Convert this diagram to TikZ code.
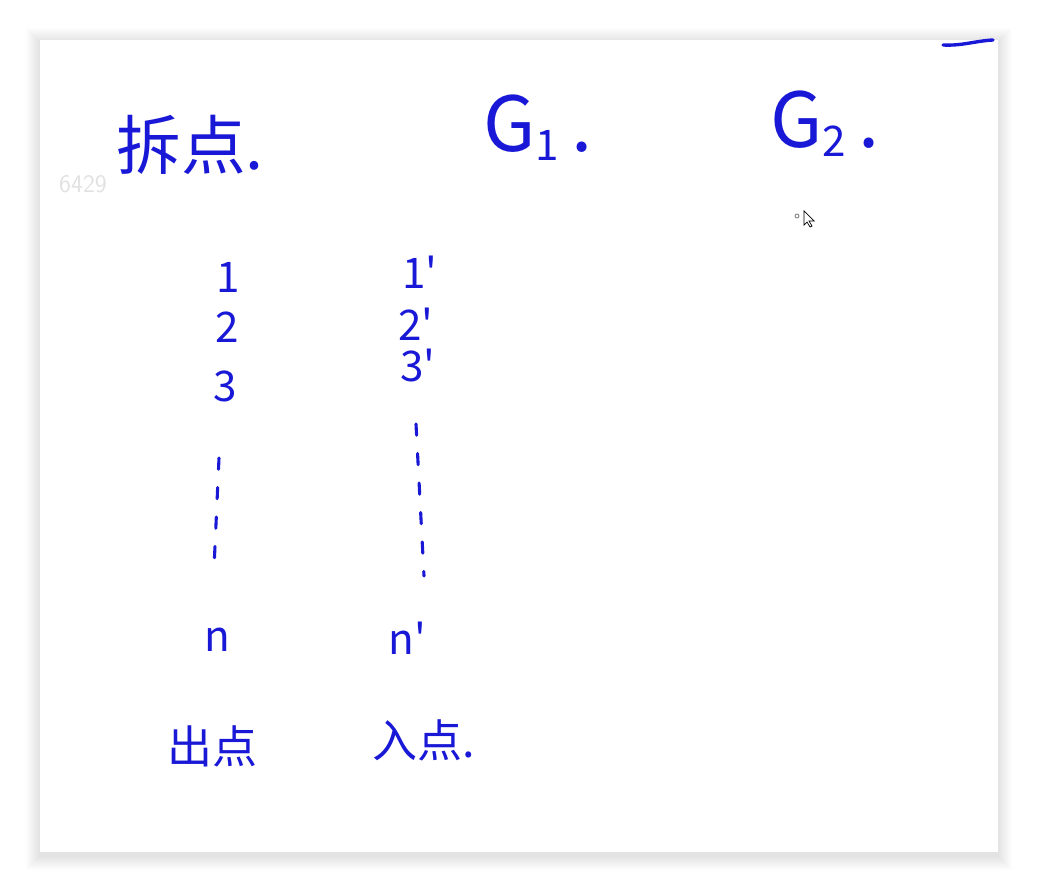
\documentclass[tikz,border=0pt]{standalone}
\usepackage{fontspec}
\newfontfamily\cjk{Noto Sans CJK SC}
\usepackage{tikz}
\usetikzlibrary{positioning}
\definecolor{ink}{RGB}{24,24,214}
\definecolor{mark}{RGB}{226,226,226}
\tikzset{
  every picture/.style={line width=0.7pt},
  hand/.style={text=ink, inner sep=0pt, font=\cjk},
  sHead/.style={hand, font=\cjk\fontsize{46}{46}\selectfont},
  sG/.style={hand, font=\cjk\fontsize{54}{54}\selectfont},
  sNum/.style={hand, font=\cjk\fontsize{30}{30}\selectfont},
  sFoot/.style={hand, font=\cjk\fontsize{32}{32}\selectfont},
  sDots/.style={draw=ink, line width=2.2pt, line cap=round, dash pattern=on 8pt off 13pt},
  sStroke/.style={draw=ink, line width=2.4pt, line cap=round},
}
\newcommand{\gsub}[1]{\raisebox{-0.12em}{\fontsize{30}{30}\selectfont#1}}

\begin{document}
\begin{tikzpicture}[x=0.025cm, y=-0.025cm]
\useasboundingbox (0,0) rectangle (1038,892);
\fill[white] (0,0) rectangle (1038,892);
% soft shadow of the board
\foreach \s in {1,...,14}
  \fill[black, opacity=0.006] (40-\s,42-\s) rectangle (998+\s,856+\s);
\fill[white] (40,40) rectangle (998,852);

\node[font=\sffamily\fontsize{18}{18}\selectfont, text=mark, inner sep=0pt] (wm) at (83,184) {6429};

\node[sHead] (split) at (190,145) {拆点.};
\node[sG] (g1) at (538,128) {G\gsub{1}\,.};
\node[sG] (g2) at (825,124) {G\gsub{2}\,.};

% out points
\node[sNum] (a1) at (228,277) {1};
\node[sNum] (a2) at (227,327) {2};
\node[sNum] (a3) at (225,386) {3};
\coordinate (a4) at (219,458);
\coordinate (a5) at (214,568);
\node[sNum] (an) at (217,640) {n};
% in points
\node[sNum] (b1) at (420,272) {1'};
\node[sNum] (b2) at (416,324) {2'};
\node[sNum] (b3) at (418,366) {3'};
\coordinate (b4) at (416,424);
\coordinate (b5) at (424,576);
\node[sNum] (bn) at (407,638) {n'};

\draw[sDots] (a4) -- (a5);
\draw[sDots] (b4) -- (b5);

\node[sFoot] (outp) at (212,746) {出点};
\node[sFoot] (inp) at (424,740) {入点.};

% pointer
\draw[black, fill=white, line width=0.5pt] (804,211) -- (804,225) -- (807,222) -- (810,227) -- (812,226) -- (809,221) -- (814,221) -- cycle;
\draw[gray, line width=0.6pt] (797,216) circle (2);

\coordinate (s1) at (943,45);
\coordinate (s2) at (993,40);
\draw[sStroke] (s1) .. controls (962,46) and (975,41) .. (s2);
\end{tikzpicture}
\end{document}
